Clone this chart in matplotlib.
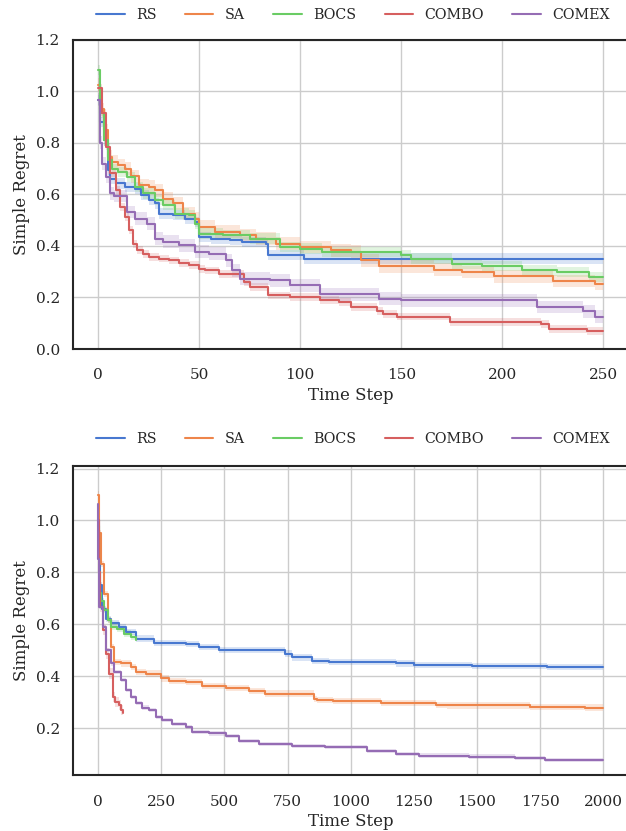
import matplotlib
matplotlib.use("Agg")
import matplotlib.pyplot as plt
import seaborn as sns

# ---- top panel (250 steps) ----
top_rs_t = [0, 1, 3, 5, 6, 9, 13, 18, 21, 25, 28, 30, 37, 43, 48, 50, 56, 65, 71, 83, 84, 102, 250]
top_rs_y = [0.967, 0.88, 0.81, 0.695, 0.66, 0.643, 0.63, 0.623, 0.597, 0.578, 0.565, 0.526, 0.52,
            0.506, 0.493, 0.435, 0.428, 0.422, 0.416, 0.409, 0.364, 0.351, 0.351]

top_sa_t = [0, 1, 3, 5, 7, 10, 13, 16, 20, 25, 28, 32, 37, 42, 48, 50, 58, 70, 78, 88, 100, 115,
            125, 130, 139, 166, 180, 196, 225, 246, 250]
top_sa_y = [1.026, 0.93, 0.85, 0.747, 0.727, 0.714, 0.70, 0.67, 0.636, 0.63, 0.617, 0.584, 0.565,
            0.526, 0.506, 0.474, 0.455, 0.442, 0.428, 0.409, 0.396, 0.383, 0.377, 0.344, 0.321,
            0.308, 0.299, 0.282, 0.264, 0.253, 0.253]

top_bocs_t = [0, 1, 3, 5, 7, 10, 14, 18, 22, 28, 32, 38, 45, 48, 50, 62, 75, 90, 100, 111, 150,
              155, 175, 190, 210, 227, 243, 250]
top_bocs_y = [1.082, 0.916, 0.81, 0.734, 0.70, 0.688, 0.669, 0.63, 0.604, 0.578, 0.558, 0.526,
              0.52, 0.487, 0.448, 0.442, 0.429, 0.396, 0.39, 0.377, 0.364, 0.351, 0.331, 0.321,
              0.305, 0.299, 0.279, 0.279]

top_combo_t = [0, 2, 4, 6, 9, 11, 13, 15, 17, 19, 22, 25, 30, 35, 40, 45, 50, 53, 60, 72, 75, 84,
               95, 110, 119, 125, 138, 141, 148, 174, 219, 223, 242, 250]
top_combo_y = [1.013, 0.916, 0.786, 0.682, 0.617, 0.552, 0.513, 0.461, 0.409, 0.383, 0.37, 0.357,
               0.351, 0.344, 0.334, 0.325, 0.312, 0.305, 0.292, 0.26, 0.24, 0.208, 0.201, 0.191,
               0.182, 0.163, 0.148, 0.137, 0.126, 0.104, 0.098, 0.078, 0.069, 0.069]

top_comex_t = [0, 1, 2, 4, 6, 8, 14, 18, 24, 28, 32, 40, 48, 55, 63, 66, 70, 85, 95, 110, 139,
               150, 217, 240, 246, 250]
top_comex_y = [0.967, 0.80, 0.72, 0.669, 0.604, 0.594, 0.532, 0.506, 0.487, 0.429, 0.416, 0.403,
               0.377, 0.37, 0.344, 0.305, 0.273, 0.266, 0.247, 0.212, 0.195, 0.189, 0.163, 0.146,
               0.126, 0.126]

top_band = {"RS": 0.02, "SA": 0.025, "BOCS": 0.02, "COMBO": 0.015, "COMEX": 0.025}

# ---- bottom panel (2000 steps) ----
bot_rs_t = [0, 2, 5, 15, 30, 50, 83, 109, 149, 221, 346, 399, 478, 741, 768, 847, 912, 1178,
            1250, 1480, 1776, 2000]
bot_rs_y = [1.0, 0.85, 0.75, 0.66, 0.62, 0.603, 0.59, 0.571, 0.545, 0.529, 0.523, 0.513, 0.50,
            0.487, 0.472, 0.459, 0.454, 0.449, 0.444, 0.438, 0.435, 0.435]

bot_sa_t = [0, 3, 10, 24, 37, 50, 63, 90, 129, 149, 188, 248, 280, 346, 412, 504, 596, 662, 855,
            868, 928, 1118, 1336, 1382, 1710, 1928, 2000]
bot_sa_y = [1.10, 0.95, 0.833, 0.718, 0.615, 0.513, 0.455, 0.449, 0.436, 0.417, 0.41, 0.391,
            0.381, 0.376, 0.363, 0.355, 0.342, 0.333, 0.312, 0.308, 0.303, 0.296, 0.29, 0.287,
            0.282, 0.279, 0.279]

bot_bocs_t = [0, 2, 5, 10, 24, 37, 50, 76, 103, 129, 150]
bot_bocs_y = [0.98, 0.80, 0.72, 0.69, 0.654, 0.615, 0.59, 0.583, 0.564, 0.551, 0.538]

bot_combo_t = [0, 3, 7, 17, 30, 43, 57, 67, 83, 90, 99]
bot_combo_y = [1.0, 0.80, 0.667, 0.577, 0.487, 0.41, 0.32, 0.301, 0.288, 0.269, 0.256]

bot_comex_t = [0, 1, 4, 17, 30, 50, 63, 90, 109, 129, 149, 175, 201, 228, 254, 294, 346, 373,
               438, 504, 557, 636, 768, 899, 1066, 1178, 1270, 1467, 1651, 1770, 2000]
bot_comex_y = [1.064, 0.85, 0.667, 0.59, 0.50, 0.449, 0.417, 0.385, 0.346, 0.321, 0.295, 0.279,
               0.269, 0.244, 0.231, 0.215, 0.203, 0.186, 0.179, 0.169, 0.151, 0.138, 0.131,
               0.126, 0.113, 0.10, 0.094, 0.09, 0.085, 0.077, 0.077]

bot_band = {"RS": 0.012, "SA": 0.012, "BOCS": 0.012, "COMBO": 0.02, "COMEX": 0.008}

methods = ["RS", "SA", "BOCS", "COMBO", "COMEX"]

sns.set_theme(style="whitegrid", palette="muted", font="serif")
plt.rcParams.update({
    "font.family": "serif",
    "font.serif": ["DejaVu Serif"],
    "axes.edgecolor": "0.15",
    "axes.linewidth": 1.5,
    "xtick.major.pad": 8,
})
colors = dict(zip(methods, sns.color_palette("muted", 5)))

fig = plt.figure(figsize=(6.26, 8.31), dpi=100)
# axes run just past the right edge of the image (cropped in the reference)
ax_top = fig.add_axes([0.1166, 0.580, 0.8874, 0.372])
ax_bot = fig.add_axes([0.1166, 0.0668, 0.8874, 0.3724])

top_data = {
    "RS": (top_rs_t, top_rs_y), "SA": (top_sa_t, top_sa_y), "BOCS": (top_bocs_t, top_bocs_y),
    "COMBO": (top_combo_t, top_combo_y), "COMEX": (top_comex_t, top_comex_y),
}
bot_data = {
    "RS": (bot_rs_t, bot_rs_y), "SA": (bot_sa_t, bot_sa_y), "BOCS": (bot_bocs_t, bot_bocs_y),
    "COMBO": (bot_combo_t, bot_combo_y), "COMEX": (bot_comex_t, bot_comex_y),
}


def draw_panel(ax, data, band, leg_y):
    for m in methods:
        t, y = data[m]
        lo = [v - band[m] for v in y]
        hi = [v + band[m] for v in y]
        ax.fill_between(t, lo, hi, step="post", color=colors[m], alpha=0.2, linewidth=0)
        ax.step(t, y, where="post", color=colors[m], lw=1.5, label=m)
    ax.set_xlabel("Time Step", labelpad=3)
    ax.set_ylabel("Simple Regret")
    for s in ax.spines.values():
        s.set_visible(True)
    ax.spines["right"].set_visible(False)
    ax.legend(loc="lower center", bbox_to_anchor=(0.504, leg_y), ncol=5, frameon=False,
              fontsize=10.25)


draw_panel(ax_top, top_data, top_band, 1.017)
ax_top.set_xlim(-12.5, 262.5)
ax_top.set_ylim(0, 1.2)
ax_top.set_xticks([0, 50, 100, 150, 200, 250])

draw_panel(ax_bot, bot_data, bot_band, 1.022)
ax_bot.set_xlim(-100, 2100)
ax_bot.set_ylim(0.017, 1.21)
ax_bot.set_xticks([0, 250, 500, 750, 1000, 1250, 1500, 1750, 2000])
ax_bot.set_yticks([0.2, 0.4, 0.6, 0.8, 1.0, 1.2])

fig.savefig("out.png", dpi=100)
